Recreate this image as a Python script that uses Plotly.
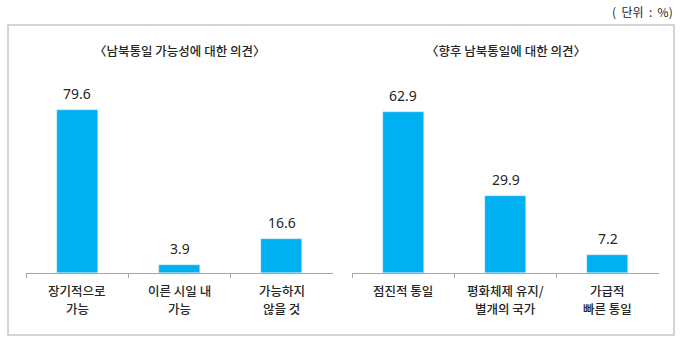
import plotly.graph_objects as go

left_title = "〈남북통일 가능성에 대한 의견〉"
left_cats = ["장기적으로<br>가능", "이른 시일 내<br>가능", "가능하지<br>않을 것"]
left_vals = [79.6, 3.9, 16.6]

right_title = "〈향후 남북통일에 대한 의견〉"
right_cats = ["점진적 통일", "평화체제 유지/<br>별개의 국가", "가급적<br>빠른 통일"]
right_vals = [62.9, 29.9, 7.2]

unit_text = "(\u00a0\u00a0단위\u00a0\u00a0:\u00a0\u00a0%)"

BAR = "#00B0F0"
TXT = "#262626"
FONT = "Noto Sans CJK KR"
W, H = 680, 344

def px_x(x):
    return x / W

def px_y(y):
    return (H - y) / H

fig = go.Figure()
fig.add_trace(go.Bar(x=left_cats, y=left_vals, marker_color=BAR, width=0.4,
                     xaxis="x", yaxis="y", hoverinfo="skip"))
fig.add_trace(go.Bar(x=right_cats, y=right_vals, marker_color=BAR, width=0.4,
                     xaxis="x2", yaxis="y2", hoverinfo="skip"))

ybot, ytop = 273, 60
axis_common = dict(
    type="category", showline=True, linecolor="#a6a6a6", linewidth=1,
    ticks="outside", tickson="boundaries", ticklen=4, tickcolor="#a6a6a6",
    showgrid=False, zeroline=False, fixedrange=True, showticklabels=False,
)
fig.update_layout(
    width=W, height=H, margin=dict(l=0, r=0, t=0, b=0),
    paper_bgcolor="white", plot_bgcolor="white", showlegend=False,
    bargap=0,
    xaxis=dict(domain=[px_x(26), px_x(333)], anchor="y", **axis_common),
    xaxis2=dict(domain=[px_x(352), px_x(659)], anchor="y2", **axis_common),
    yaxis=dict(domain=[px_y(ybot), px_y(ytop)], range=[0, (ybot - ytop) / 2.048],
               visible=False, fixedrange=True),
    yaxis2=dict(domain=[px_y(ybot), px_y(ytop)], range=[0, (ybot - ytop) / 2.56],
                visible=False, fixedrange=True, anchor="x2"),
)

annotations = []
for cats, vals, xr, yr in [(left_cats, left_vals, "x", "y"), (right_cats, right_vals, "x2", "y2")]:
    for c, v in zip(cats, vals):
        annotations.append(dict(x=c, y=v, xref=xr, yref=yr, text=f"{v:.1f}",
                                showarrow=False, xanchor="center", yanchor="bottom", yshift=5,
                                font=dict(family="Noto Sans", size=14, color=TXT)))
        for i, line in enumerate(c.split("<br>")):
            annotations.append(dict(x=c, y=px_y(290 + 18 * i), xref=xr, yref="paper",
                                    text=line, showarrow=False, xanchor="center",
                                    yanchor="middle",
                                    font=dict(family=FONT, size=12.5, color=TXT, weight=500)))
annotations.append(dict(x=(px_x(26) + px_x(333)) / 2, y=px_y(50), xref="paper", yref="paper",
                        text=left_title, showarrow=False, xanchor="center", yanchor="middle",
                        font=dict(family=FONT, size=12.5, color=TXT, weight=500)))
annotations.append(dict(x=(px_x(352) + px_x(659)) / 2, y=px_y(50), xref="paper", yref="paper",
                        text=right_title, showarrow=False, xanchor="center", yanchor="middle",
                        font=dict(family=FONT, size=12.5, color=TXT, weight=500)))
annotations.append(dict(x=px_x(675), y=px_y(12), xref="paper", yref="paper",
                        text=unit_text, showarrow=False, xanchor="right", yanchor="middle",
                        font=dict(family=FONT, size=12, color=TXT)))
fig.update_layout(annotations=annotations)

fig.add_shape(type="rect", xref="paper", yref="paper",
              x0=px_x(8), x1=px_x(674), y0=px_y(335), y1=px_y(25),
              line=dict(color="#c8c8c8", width=1.5), fillcolor="rgba(0,0,0,0)")

fig.write_html("out.html")
